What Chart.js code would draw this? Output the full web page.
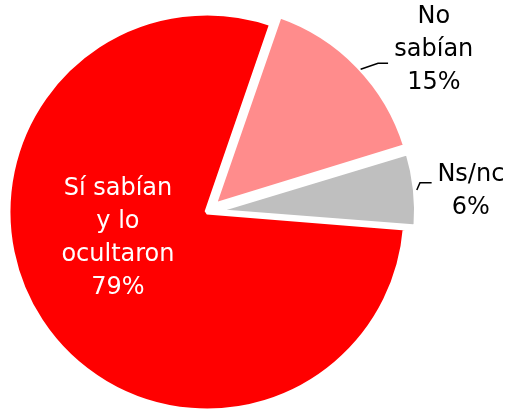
<!DOCTYPE html>
<html>
<head>
<meta charset="utf-8">
<script src="https://cdn.jsdelivr.net/npm/chart.js@4"></script>
<style>
  html, body { margin: 0; padding: 0; background: #fff; }
  #wrap { width: 511px; height: 411px; }
</style>
</head>
<body>
<div id="wrap"><canvas id="grafico"></canvas></div>
<script>
const categorias = ["Sí sabían y lo ocultaron", "No sabían", "Ns/nc"];
const porcentajes = [79, 15, 6];
const etiquetas = [["Sí sabían", "y lo", "ocultaron", "79%"], ["No", "sabían", "15%"], ["Ns/nc", "6%"]];

const colores = ["#ff0000", "#ff8c8c", "#bfbfbf"];
const desplazamientos = [0, 38, 26];

// donde va cada etiqueta: angulo (grados desde arriba) y radio relativo
const posEtiquetas = [
  { ang: 253.4, r: 0.467, color: "#fff", guia: null },
  { ang: 54.5, r: 1.40, color: "#000", guia: [[47.1, 1.054], [49, 1.139], 10] },
  { ang: 85.5, r: 1.33, color: "#000", guia: [[84, 1.06], [82.2, 1.08], 11.7] }
];

function punto(cx, cy, radio, ang, r) {
  const a = ang * Math.PI / 180;
  return [cx + Math.sin(a) * radio * r, cy - Math.cos(a) * radio * r];
}

const pluginEtiquetas = {
  id: "etiquetas",
  afterDatasetsDraw(chart) {
    const ctx = chart.ctx;
    const arco = chart.getDatasetMeta(0).data[0];
    const cx = arco.x, cy = arco.y, radio = arco.outerRadius;
    ctx.save();
    ctx.font = "24px 'DejaVu Sans'";
    ctx.textAlign = "center";
    ctx.textBaseline = "middle";
    const alto = 33;
    etiquetas.forEach((lineas, i) => {
      const p = posEtiquetas[i];
      const [x, y] = punto(cx, cy, radio, p.ang, p.r);
      ctx.fillStyle = p.color;
      lineas.forEach((t, j) => {
        ctx.fillText(t, x, y + (j - (lineas.length - 1) / 2) * alto);
      });
      if (p.guia) {
        const a = punto(cx, cy, radio, p.guia[0][0], p.guia[0][1]);
        const b = punto(cx, cy, radio, p.guia[1][0], p.guia[1][1]);
        ctx.strokeStyle = "#000";
        ctx.lineWidth = 1.5;
        ctx.beginPath();
        ctx.moveTo(a[0], a[1]);
        ctx.lineTo(b[0], b[1]);
        ctx.lineTo(b[0] + p.guia[2], b[1]);
        ctx.stroke();
      }
    });
    ctx.restore();
  }
};

new Chart(document.getElementById("grafico"), {
  type: "pie",
  data: {
    labels: categorias,
    datasets: [{
      data: porcentajes,
      backgroundColor: colores,
      borderColor: "#fff",
      borderWidth: 5,
      offset: desplazamientos
    }]
  },
  options: {
    responsive: true,
    maintainAspectRatio: false,
    animation: false,
    rotation: 94.6,
    radius: 199,
    layout: { padding: { left: 0, right: 97, top: 13, bottom: 0 } },
    plugins: {
      legend: { display: false },
      tooltip: { enabled: false }
    }
  },
  plugins: [pluginEtiquetas]
});
</script>
</body>
</html>
